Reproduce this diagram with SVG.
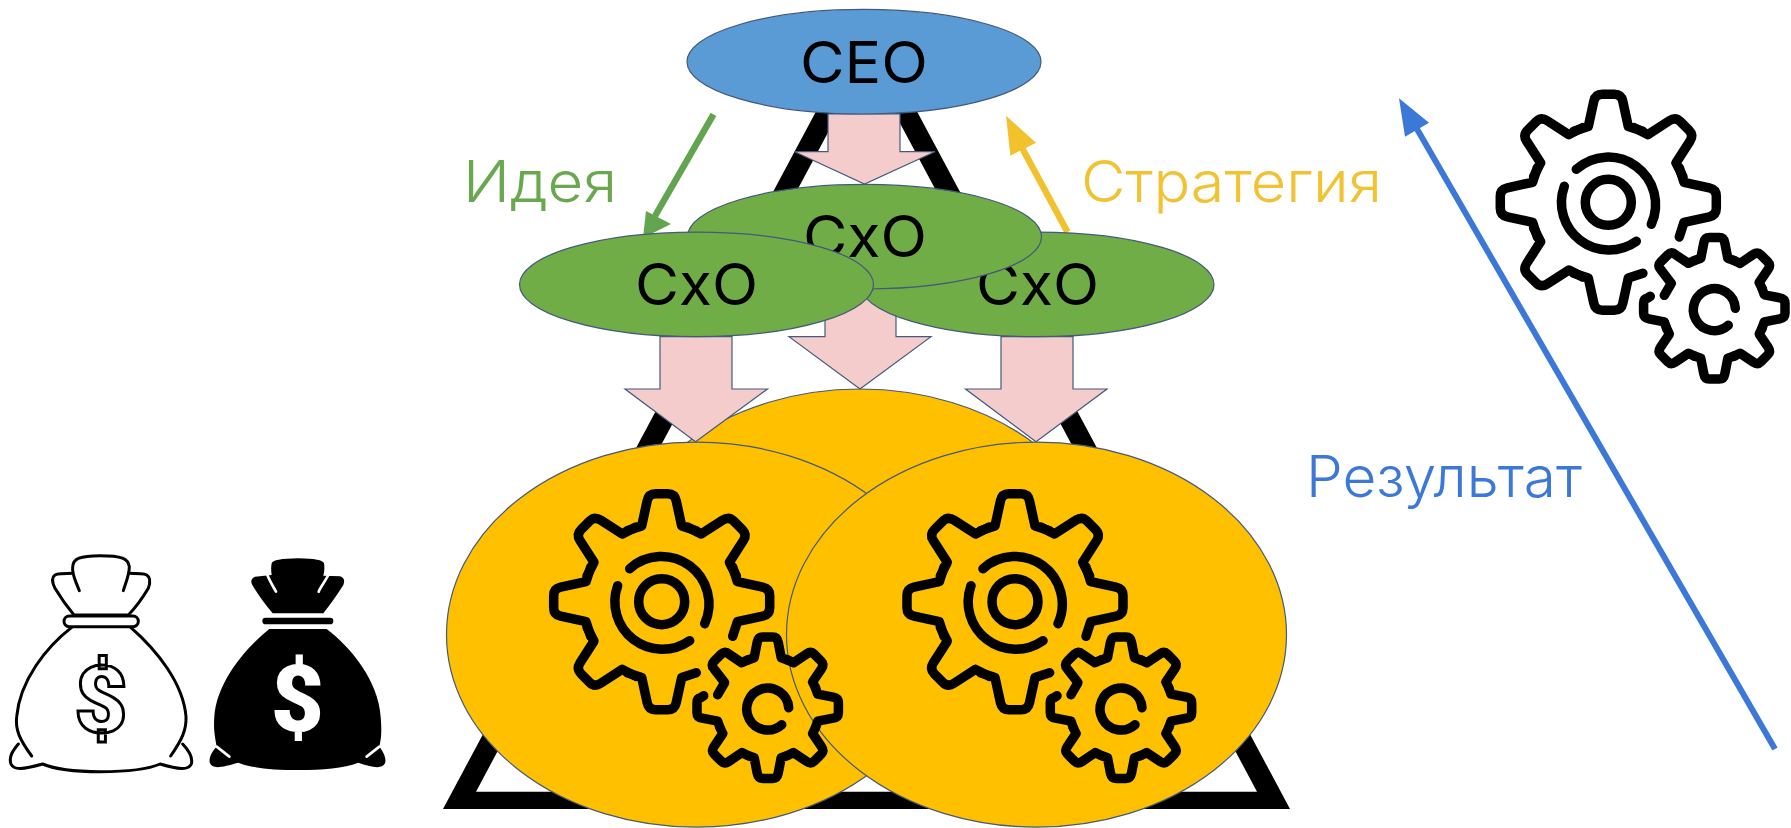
<svg xmlns="http://www.w3.org/2000/svg" width="1791" height="828" viewBox="0 0 1791 828">
<style>
.n{stroke:#44597c;stroke-width:1.2}
.yl{fill:#FFC000}.gr{fill:#70AD47}.bl{fill:#5B9BD5}
.pk{fill:#F4CCCC;stroke:#44597c;stroke-width:1.2}
.g{fill:none;stroke:#000;stroke-width:9.5;stroke-linecap:round;stroke-linejoin:round}
.t{font-family:"Inter","Liberation Sans",sans-serif;text-anchor:start}
.bk{font-size:58px;fill:#000;font-weight:400}
.lab{font-size:57px;font-weight:300}
.bag{fill:none;stroke:#000;stroke-width:9;stroke-linecap:round;stroke-linejoin:round}
.slit{fill:none;stroke:#fff;stroke-width:8;stroke-linecap:round}
</style>
<defs>
<path id="t1" d="M-34.6,-71L-20,-75.7L-14.5,-101Q-13,-108-6,-108H6Q13,-108 14.5,-101L20,-75.7L34.6,-71"/>
<path id="t2" d="M-19.8,-47.8L-13.5,-50L-10.5,-65.5Q-9.5,-70.7-5,-70.7H5Q9.5,-70.7 10.5,-65.5L13.5,-50L19.8,-47.8"/>
<g id="gearset" class="g">
<use href="#t1"/>
<use href="#t1" transform="rotate(45)"/>
<use href="#t1" transform="rotate(90)"/>
<use href="#t1" transform="rotate(180)"/>
<use href="#t1" transform="rotate(225)"/>
<use href="#t1" transform="rotate(270)"/>
<use href="#t1" transform="rotate(315)"/>
<circle r="23"/>
<path d="M-32,-33A47.5,47.5 0 0 1 43,22"/>
<path d="M-44,-16A47.5,47.5 0 0 0 28,39"/>
<g transform="translate(106,106)">
<use href="#t2"/>
<use href="#t2" transform="rotate(45)"/>
<use href="#t2" transform="rotate(90)"/>
<use href="#t2" transform="rotate(135)"/>
<use href="#t2" transform="rotate(180)"/>
<use href="#t2" transform="rotate(225)"/>
<path d="M-50,-13L-43,-25L-53.7,-38.9Q-57.4,-42.7-53.5,-46.5L-46.5,-53.5Q-42.7,-57.4-38.9,-53.7L-26,-45L-19.8,-47.8"/>
<path d="M-64,-12L-67,-10Q-70.7,-9.5-70.7,-5V5Q-70.7,9.5-65.5,10.5L-50,13.5L-47.8,19.8"/>
<path d="M21,0A21,21 0 1 0 14,17"/>
</g>
</g>
</defs>

<path id="pyramid" fill="#000" fill-rule="evenodd" d="M866.5,17L443,809H1290ZM866.5,60.4L476,791.7H1257Z"/>

<g id="node-team-back"><ellipse class="yl n" cx="860" cy="581.5" rx="250" ry="192.5"/></g>

<g id="connectors">
<path class="pk" d="M828,114H900V151.7H935L864.5,184L794.6,151.7H828Z"/>
<path class="pk" d="M825,290H896V336.7H931L860,389L789,336.7H825Z"/>
<path class="pk" d="M660,336.7H732V389H767.5L695.6,441.7L625,389H660Z"/>
<path class="pk" d="M1001,336.7H1073V389H1107L1036,441.7L965.5,389H1001Z"/>
<g id="idea-arrow"><path d="M713.5,114.3L655,216" stroke="#62a44f" stroke-width="6.5" fill="none"/><path d="M643,238L646,211L671,224Z" fill="#62a44f"/></g>
<g id="strategy-arrow"><path d="M1067.5,232L1021,146" stroke="#f2c12e" stroke-width="6.5" fill="none"/><path d="M1006,115.7L1036,142.7L1010.4,155.7Z" fill="#f2c12e"/></g>
<g id="result-arrow"><path d="M1775,749L1417,129" stroke="#3c78d8" stroke-width="6" fill="none"/><path d="M1399,98.3L1429,122.7L1405,136.7Z" fill="#3c78d8"/></g>
</g>

<g id="node-team-left"><ellipse class="yl n" cx="696.5" cy="634.6" rx="250" ry="192.5"/></g>
<g id="node-team-right"><ellipse class="yl n" cx="1036.5" cy="634.6" rx="250" ry="192.5"/></g>

<g id="node-cxo-right"><ellipse class="gr n" cx="1037" cy="284.4" rx="177" ry="52.3"/><text class="t bk" x="976" y="305" textLength="123" lengthAdjust="spacingAndGlyphs">CxO</text></g>
<g id="node-cxo-center"><ellipse class="gr n" cx="864.5" cy="236.7" rx="177" ry="52.3"/><text class="t bk" x="803" y="257" textLength="124" lengthAdjust="spacingAndGlyphs">CxO</text></g>
<g id="node-cxo-left"><ellipse class="gr n" cx="696.5" cy="284.4" rx="177" ry="52.3"/><text class="t bk" x="635" y="305" textLength="123" lengthAdjust="spacingAndGlyphs">CxO</text></g>
<g id="node-ceo"><ellipse class="bl n" cx="864" cy="61.7" rx="177" ry="52.3"/><text class="t bk" x="800" y="82.5" textLength="128" lengthAdjust="spacingAndGlyphs">CEO</text></g>

<g id="gears-left"><use href="#gearset" transform="translate(661.7,601.7)"/></g>
<g id="gears-right"><use href="#gearset" transform="translate(1015,601.7)"/></g>
<g id="gears-top"><use href="#gearset" transform="translate(1608.3,202.3)"/></g>

<text class="t lab" x="463" y="202" fill="#6aa84f" textLength="154" lengthAdjust="spacingAndGlyphs">Идея</text>
<text class="t lab" x="1081" y="202" fill="#f1c232" textLength="301" lengthAdjust="spacingAndGlyphs">Стратегия</text>
<text class="t lab" x="1306" y="497" fill="#3c78d8" textLength="276" lengthAdjust="spacingAndGlyphs">Результат</text>

<g id="bag-white" transform="translate(0,540) scale(.33333)">
<g class="bag">
<path d="M238,152C228,125 215,105 218,80C220,55 240,48 300,47C365,47 385,55 388,80C388,105 378,125 370,152"/>
<path d="M218,100C195,100 175,100 165,105C155,112 155,125 165,145C180,170 205,205 222,225H385C405,205 430,170 445,145C452,125 452,112 440,105C430,100 410,100 388,100"/>
<rect x="192" y="228" width="223" height="32" rx="16"/>
<path d="M215,262C140,320 60,420 50,530C45,570 60,600 95,648"/>
<path d="M392,262C470,330 550,430 558,530C560,570 545,600 512,648"/>
<path d="M55,612C40,630 25,650 33,672C42,692 70,688 128,672C170,690 240,695 300,695C370,695 440,690 480,672C535,688 565,692 574,672C580,650 565,630 548,612"/>
</g>
</g>
<text x="101" y="732" font-family="Roboto,sans-serif" font-weight="900" font-size="92" fill="#fff" stroke="#000" stroke-width="3" text-anchor="middle">$</text>

<g id="bag-black" transform="translate(0,540) scale(.33333)">
<path d="M815,70Q818,56 895,55Q968,56 972,70Q975,90 970,107L1020,109Q1038,115 1030,135Q1005,175 970,220H818Q780,175 757,135Q748,118 765,110L815,105Q812,85 815,70Z"/>
<path class="slit" d="M802,105C810,125 820,140 828,155M985,105C975,125 962,140 956,155"/>
<rect x="787" y="233" width="213" height="20" rx="10"/>
<path d="M808,267H980C1050,320 1135,420 1142,530C1145,570 1145,590 1138,620C1150,635 1160,655 1155,670C1145,690 1110,680 1075,668C1030,685 970,690 895,690C820,690 760,685 715,668C670,680 640,690 630,670C625,655 635,635 650,620C645,590 640,570 643,530C650,430 730,330 808,267Z"/>
<path class="slit" stroke-width="6" d="M650,620L688,650M1138,620L1100,650"/>
</g>
<text x="297.5" y="731" font-family="Roboto,sans-serif" font-weight="900" font-size="92" fill="#fff" text-anchor="middle">$</text>
</svg>
